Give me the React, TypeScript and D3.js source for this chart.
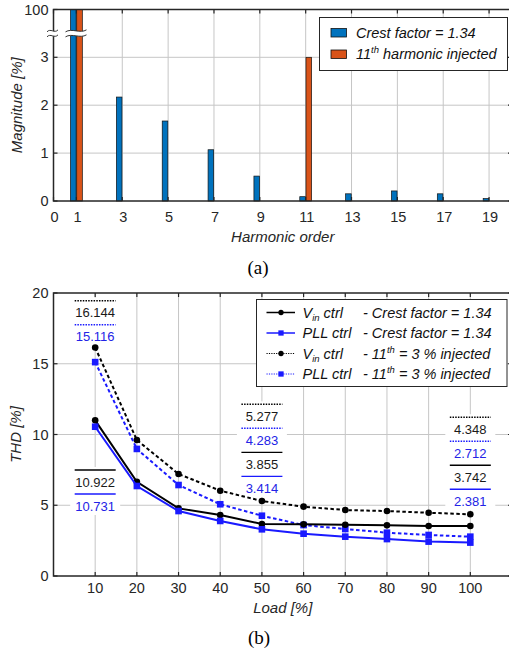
import React from 'react';
import * as d3 from 'd3';

// ---------- (a) harmonic spectrum ----------
const harmonicTicks = [0, 1, 3, 5, 7, 9, 11, 13, 15, 17, 19];
const crestHarmonics = [1, 3, 5, 7, 9, 11, 13, 15, 17, 19];
const crestValues = [100, 2.17, 1.67, 1.07, 0.52, 0.09, 0.15, 0.21, 0.15, 0.05];
const injectedHarmonics = [1, 11];
const injectedValues = [100, 3];
const magnitudeTicks = [0, 1, 2, 3, 100];
const magnitudeGrid = [1, 2, 3];
const spectrumSeries = ['crest', 'injected'];
const spectrumLabels = ['Crest factor = 1.34', '11th harmonic injected'];

// ---------- (b) THD vs load ----------
const loads = [10, 20, 30, 40, 50, 60, 70, 80, 90, 100];
const vinCrest = [11.0, 6.66, 4.78, 4.31, 3.67, 3.65, 3.62, 3.58, 3.53, 3.53];
const pllCrest = [10.55, 6.36, 4.59, 3.89, 3.3, 2.99, 2.78, 2.61, 2.43, 2.36];
const vinInjected = [16.144, 9.61, 7.21, 6.03, 5.3, 4.9, 4.66, 4.59, 4.47, 4.36];
const pllInjected = [15.116, 8.98, 6.43, 5.07, 4.26, 3.6, 3.32, 3.06, 2.9, 2.78];
const thdTicks = [0, 5, 10, 15, 20];
const loadTicks = [10, 20, 30, 40, 50, 60, 70, 80, 90, 100];

// annotation blocks
const annotLoads = [10, 10, 50, 100];
const annotAnchors = [19.46, 7.49, 12.13, 11.22];
const annotTexts = [
  ['16.144', '15.116'],
  ['10.922', '10.731'],
  ['5.277', '4.283', '3.855', '3.414'],
  ['4.348', '2.712', '3.742', '2.381'],
];
const annotKinds = [
  ['vinInj', 'pllInj'],
  ['vinCrest', 'pllCrest'],
  ['vinInj', 'pllInj', 'vinCrest', 'pllCrest'],
  ['vinInj', 'pllInj', 'vinCrest', 'pllCrest'],
];

const BLUE_BAR = '#0072BD';
const ORANGE_BAR = '#D95319';
const BLUE = '#1a1aff';
const AX = '#262626';
const GRID = '#c6c6c6';
const SANS = '"Liberation Sans", Arial, sans-serif';
const SERIF = '"Liberation Serif", "Times New Roman", serif';

const styles: Record<string, { color: string; dash: string | null; marker: 'circle' | 'square' }> = {
  vinCrest: { color: '#000', dash: null, marker: 'circle' },
  pllCrest: { color: BLUE, dash: null, marker: 'square' },
  vinInj: { color: '#000', dash: '3.5,2.5', marker: 'circle' },
  pllInj: { color: BLUE, dash: '3.5,2.5', marker: 'square' },
};

const seriesData: Record<string, number[]> = {
  vinCrest,
  pllCrest,
  vinInj: vinInjected,
  pllInj: pllInjected,
};

function Marker({ x, y, kind, color, size = 1 }: any) {
  if (kind === 'circle') return <circle cx={x} cy={y} r={3.3 * size} fill={color} />;
  const s = 6.6 * size;
  return <rect x={x - s / 2} y={y - s / 2} width={s} height={s} fill={color} />;
}

export default function App() {
  // ---- panel (a) scales
  const aL = 53.5, aR = 512, aT = 9.5, aB = 201;
  const xA = d3.scaleLinear().domain([0, 20]).range([aL, aR]);
  const yA = d3.scaleLinear().domain([0, 3.5, 100]).range([aB, aB - 3.5 * 47.9, aT]);
  const band = d3.scaleBand().domain(spectrumSeries).range([-5.9, 5.9]).paddingInner(0.1);
  const barColor = d3.scaleOrdinal<string, string>().domain(spectrumSeries).range([BLUE_BAR, ORANGE_BAR]);

  // ---- panel (b) scales
  const bL = 53.5, bR = 512, bT = 293, bB = 576;
  const xB = d3.scaleLinear().domain([0, 110]).range([bL, bR]);
  const yB = d3.scaleLinear().domain([0, 20]).range([bB, bT]);

  const lineGen = d3
    .line<number>()
    .x((_, i) => xB(loads[i]))
    .y((d) => yB(d));

  const breakY = yA(3.5);
  const tilde = (x0: number, x1: number, y: number) => {
    const w = x1 - x0;
    return `M${x0},${y + 1} C${x0 + w * 0.3},${y - 3} ${x0 + w * 0.7},${y + 3} ${x1},${y - 1}`;
  };
  const breakMark = (x0: number, x1: number) => (
    <g>
      <path
        d={`M${x0},${breakY - 1.5} C${x0 + (x1 - x0) * 0.3},${breakY - 5.5} ${x0 + (x1 - x0) * 0.7},${breakY + 0.5} ${x1},${breakY - 3.5} L${x1},${breakY + 1.5} C${x0 + (x1 - x0) * 0.7},${breakY + 5.5} ${x0 + (x1 - x0) * 0.3},${breakY - 0.5} ${x0},${breakY + 3.5} Z`}
        fill="#fff"
      />
      <path d={tilde(x0, x1, breakY - 2.5)} fill="none" stroke="#333" strokeWidth={1} />
      <path d={tilde(x0, x1, breakY + 2.5)} fill="none" stroke="#333" strokeWidth={1} />
    </g>
  );

  return (
    <svg
      width={509}
      height={652}
      style={{ position: 'absolute', left: 0, top: 0, background: '#fff', overflow: 'hidden' }}
      fontFamily={SANS}
    >
      <rect x={0} y={0} width={509} height={652} fill="#fff" />

      {/* ================= PANEL (a) ================= */}
      <g>
        {/* grid */}
        {harmonicTicks
          .filter((t) => t > 0)
          .map((t) => (
            <line key={'gx' + t} x1={xA(t)} x2={xA(t)} y1={aT} y2={aB} stroke={GRID} strokeWidth={1} />
          ))}
        {magnitudeGrid.map((t) => (
          <line key={'gy' + t} x1={aL} x2={aR} y1={yA(t)} y2={yA(t)} stroke={GRID} strokeWidth={1} />
        ))}

        {/* bars */}
        {crestHarmonics.map((h, i) => (
          <rect
            key={'cb' + h}
            x={xA(h) + (band('crest') as number)}
            width={band.bandwidth()}
            y={yA(crestValues[i])}
            height={aB - yA(crestValues[i])}
            fill={barColor('crest')}
            stroke="#111"
            strokeWidth={0.7}
          />
        ))}
        {injectedHarmonics.map((h, i) => (
          <rect
            key={'ib' + h}
            x={xA(h) + (band('injected') as number)}
            width={band.bandwidth()}
            y={yA(injectedValues[i])}
            height={aB - yA(injectedValues[i])}
            fill={barColor('injected')}
            stroke="#111"
            strokeWidth={0.7}
          />
        ))}

        {/* frame */}
        <rect x={aL} y={aT} width={aR - aL} height={aB - aT} fill="none" stroke={AX} strokeWidth={1.5} />
        {harmonicTicks.map((t) => (
          <g key={'tx' + t}>
            <line x1={xA(t)} x2={xA(t)} y1={aB} y2={aB - 4} stroke={AX} strokeWidth={1.2} />
            <line x1={xA(t)} x2={xA(t)} y1={aT} y2={aT + 4} stroke={AX} strokeWidth={1.2} />
            <text x={xA(t) + 1} y={222} textAnchor="middle" fontSize={14.5} fill={AX}>
              {t}
            </text>
          </g>
        ))}
        {magnitudeTicks.map((t) => (
          <g key={'ty' + t}>
            <line x1={aL} x2={aL + 4} y1={yA(t)} y2={yA(t)} stroke={AX} strokeWidth={1.2} />
            <line x1={aR} x2={aR - 4} y1={yA(t)} y2={yA(t)} stroke={AX} strokeWidth={1.2} />
            <text x={48.5} y={yA(t) + 5} textAnchor="end" fontSize={14.5} fill={AX}>
              {t}
            </text>
          </g>
        ))}

        {/* axis breaks */}
        {breakMark(47, 58)}
        {breakMark(65.5, 86.5)}

        {/* labels */}
        <text
          transform={`translate(22,${(aT + aB) / 2}) rotate(-90)`}
          textAnchor="middle"
          fontSize={15}
          fontStyle="italic"
          fill={AX}
        >
          Magnitude [%]
        </text>
        <text x={(aL + aR) / 2} y={242} textAnchor="middle" fontSize={15} fontStyle="italic" fill={AX}>
          Harmonic order
        </text>

        {/* legend */}
        <rect x={319.5} y={17.5} width={188} height={53} fill="#fff" stroke={AX} strokeWidth={1} />
        {spectrumSeries.map((s, i) => (
          <g key={'lg' + s}>
            <rect
              x={331}
              y={28.5 + i * 21.5}
              width={15.5}
              height={8.5}
              fill={barColor(s)}
              stroke="#111"
              strokeWidth={0.8}
            />
            <text x={356} y={37.5 + i * 21.5} fontSize={14.5} fontStyle="italic" fill="#111">
              {i === 0 ? (
                spectrumLabels[0]
              ) : (
                <>
                  <tspan>11</tspan>
                  <tspan fontSize={9.5} dy={-6}>
                    th
                  </tspan>
                  <tspan dy={6}> harmonic injected</tspan>
                </>
              )}
            </text>
          </g>
        ))}

        <text x={258} y={274} textAnchor="middle" fontSize={19} fontFamily={SERIF} fill="#000">
          (a)
        </text>
      </g>

      {/* ================= PANEL (b) ================= */}
      <g>
        {/* grid */}
        {loadTicks.map((t) => (
          <line key={'bgx' + t} x1={xB(t)} x2={xB(t)} y1={bT} y2={bB} stroke={GRID} strokeWidth={1} />
        ))}
        {thdTicks
          .filter((t) => t > 0 && t < 20)
          .map((t) => (
            <line key={'bgy' + t} x1={bL} x2={bR} y1={yB(t)} y2={yB(t)} stroke={GRID} strokeWidth={1} />
          ))}

        {/* annotation blocks */}
        {annotLoads.map((ld, bi) => {
          const cx = xB(ld);
          const y0 = yB(annotAnchors[bi]);
          const n = annotTexts[bi].length;
          return (
            <g key={'ab' + bi}>
              <rect x={cx - 25} y={y0 - 3} width={50} height={n * 24} fill="#fff" />
              {annotTexts[bi].map((txt, k) => {
                const st = styles[annotKinds[bi][k]];
                const yy = y0 + k * 24;
                return (
                  <g key={'at' + k}>
                    <line
                      x1={cx - 20.5}
                      x2={cx + 20.5}
                      y1={yy}
                      y2={yy}
                      stroke={st.color}
                      strokeWidth={st.dash ? 1.5 : 1.4}
                      strokeDasharray={st.dash ? '1.5,1.2' : undefined}
                    />
                    <text
                      x={cx}
                      y={yy + 16.5}
                      textAnchor="middle"
                      fontSize={13}
                      fill={st.color === '#000' ? '#1a1a1a' : '#2323e6'}
                    >
                      {txt}
                    </text>
                  </g>
                );
              })}
            </g>
          );
        })}

        {/* series */}
        {['vinInj', 'pllInj', 'vinCrest', 'pllCrest'].map((k) => {
          const st = styles[k];
          const data = seriesData[k];
          return (
            <g key={'s' + k}>
              <path
                d={lineGen(data) as string}
                fill="none"
                stroke={st.color}
                strokeWidth={2}
                strokeDasharray={st.dash ?? undefined}
              />
              {data.map((v, i) => (
                <Marker key={i} x={xB(loads[i])} y={yB(v)} kind={st.marker} color={st.color} />
              ))}
            </g>
          );
        })}

        {/* frame */}
        <rect x={bL} y={bT} width={bR - bL} height={bB - bT} fill="none" stroke={AX} strokeWidth={1.5} />
        {loadTicks.map((t) => (
          <g key={'btx' + t}>
            <line x1={xB(t)} x2={xB(t)} y1={bB} y2={bB - 4} stroke={AX} strokeWidth={1.2} />
            <line x1={xB(t)} x2={xB(t)} y1={bT} y2={bT + 4} stroke={AX} strokeWidth={1.2} />
            <text x={xB(t)} y={593} textAnchor="middle" fontSize={14.5} fill={AX}>
              {t}
            </text>
          </g>
        ))}
        {thdTicks.map((t) => (
          <g key={'bty' + t}>
            <line x1={bL} x2={bL + 4} y1={yB(t)} y2={yB(t)} stroke={AX} strokeWidth={1.2} />
            <line x1={bR} x2={bR - 4} y1={yB(t)} y2={yB(t)} stroke={AX} strokeWidth={1.2} />
            <text x={48.5} y={yB(t) + 5} textAnchor="end" fontSize={14.5} fill={AX}>
              {t}
            </text>
          </g>
        ))}

        {/* labels */}
        <text
          transform={`translate(21,${(bT + bB) / 2}) rotate(-90)`}
          textAnchor="middle"
          fontSize={15}
          fontStyle="italic"
          fill={AX}
        >
          THD [%]
        </text>
        <text x={(bL + bR) / 2} y={613} textAnchor="middle" fontSize={15} fontStyle="italic" fill={AX}>
          Load [%]
        </text>

        {/* legend */}
        <rect x={256.5} y={299.5} width={250.5} height={87} fill="#fff" stroke={AX} strokeWidth={1} />
        {['vinCrest', 'pllCrest', 'vinInj', 'pllInj'].map((k, i) => {
          const st = styles[k];
          const cy = 312.5 + i * 20.5;
          const isVin = k.startsWith('vin');
          const isCrest = k.endsWith('Crest');
          return (
            <g key={'bl' + k}>
              <line
                x1={266.5}
                x2={295}
                y1={cy}
                y2={cy}
                stroke={st.color}
                strokeWidth={st.dash ? 1 : 1.5}
                strokeDasharray={st.dash ? '1.2,1.2' : undefined}
              />
              <Marker x={281} y={cy} kind={st.marker} color={st.color} size={0.8} />
              <text x={302.5} y={cy + 5} fontSize={14.5} fontStyle="italic" fill="#111">
                {isVin ? (
                  <>
                    <tspan>V</tspan>
                    <tspan fontSize={9.5} dy={3}>
                      in
                    </tspan>
                    <tspan dy={-3}> ctrl</tspan>
                  </>
                ) : (
                  'PLL ctrl'
                )}
              </text>
              <text x={363} y={cy + 5} fontSize={14.5} fontStyle="italic" fill="#111">
                {isCrest ? (
                  '- Crest factor = 1.34'
                ) : (
                  <>
                    <tspan>- 11</tspan>
                    <tspan fontSize={9.5} dy={-6}>
                      th
                    </tspan>
                    <tspan dy={6}> = 3 % injected</tspan>
                  </>
                )}
              </text>
            </g>
          );
        })}

        <text x={259} y={644} textAnchor="middle" fontSize={19} fontFamily={SERIF} fill="#000">
          (b)
        </text>
      </g>
    </svg>
  );
}
